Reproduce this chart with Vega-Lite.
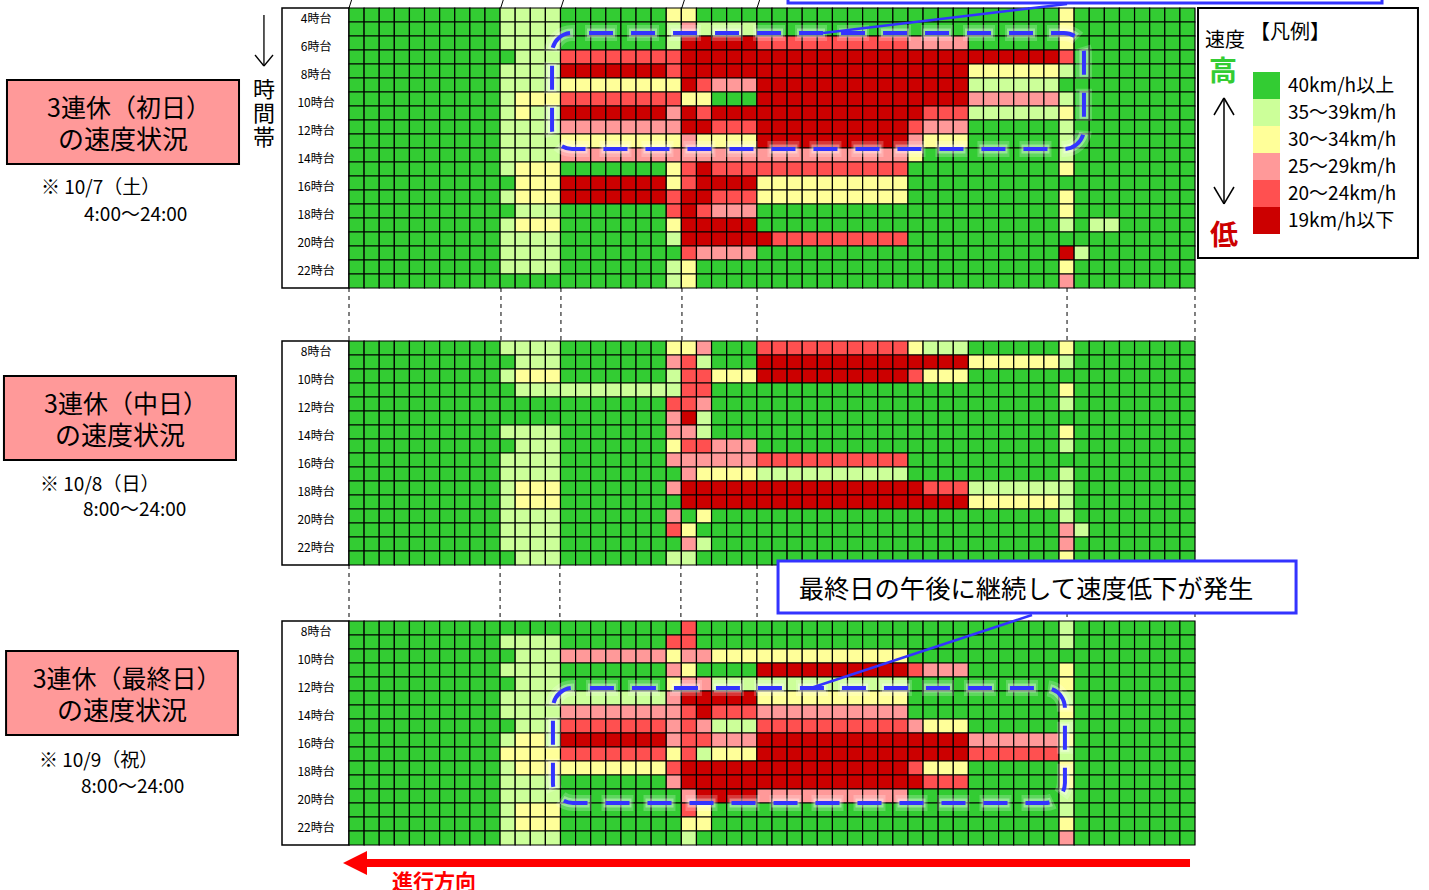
{
"$schema":"https://vega.github.io/schema/vega-lite/v6.json",
"width":1429,"height":890,"padding":0,"autosize":{"type":"none"},"background":"white",
"config":{"font":"Noto Sans CJK JP","view":{"stroke":null}},
"datasets":{"cells":[
{"day":"10/7","hour":4,"label":"4時台","speed":[0,0,0,0,0,0,0,0,0,0, 1,1,1,1, 0,0,0,0,0,0,0, 2, 2, 0,0,0,0, 0,0,0,0,0,0,0,0,0,0, 0,0,0,0, 0,0,0,0,0,0, 2, 0,0,0,0,0,0,0,0]},
{"day":"10/7","hour":5,"label":"5時台","speed":[0,0,0,0,0,0,0,0,0,0, 1,1,1,1, 0,0,0,0,0,0,0, 1, 3, 1,1,1,1, 0,0,0,0,0,0,0,0,0,0, 0,0,0,0, 0,0,0,0,0,0, 2, 0,0,0,0,0,0,0,0]},
{"day":"10/7","hour":6,"label":"6時台","speed":[0,0,0,0,0,0,0,0,0,0, 1,1,1,1, 0,0,0,0,0,0,0, 1, 5, 5,5,5,5, 4,4,4,4,4,4,4,4,4,4, 3,3,3,3, 0,0,0,0,0,0, 2, 0,0,0,0,0,0,0,0]},
{"day":"10/7","hour":7,"label":"7時台","speed":[0,0,0,0,0,0,0,0,0,0, 0,1,1,1, 4,4,4,4,4,4,4, 4, 5, 5,5,5,5, 5,5,5,5,5,5,5,5,5,5, 5,5,5,5, 5,5,5,5,5,5, 4, 0,0,0,0,0,0,0,0]},
{"day":"10/7","hour":8,"label":"8時台","speed":[0,0,0,0,0,0,0,0,0,0, 1,1,1,1, 5,5,5,5,5,5,5, 4, 5, 5,5,5,5, 5,5,5,5,5,5,5,5,5,5, 5,5,5,5, 2,2,2,2,2,2, 1, 0,0,0,0,0,0,0,0]},
{"day":"10/7","hour":9,"label":"9時台","speed":[0,0,0,0,0,0,0,0,0,0, 1,1,1,1, 2,2,2,2,2,2,2, 2, 5, 4,3,3,3, 5,5,5,5,5,5,5,5,5,5, 5,5,5,5, 1,1,1,1,1,1, 0, 0,0,0,0,0,0,0,0]},
{"day":"10/7","hour":10,"label":"10時台","speed":[0,0,0,0,0,0,0,0,0,0, 1,2,2,2, 4,4,4,4,4,4,4, 4, 2, 2,0,0,0, 5,5,5,5,5,5,5,5,5,5, 5,5,5,5, 3,3,3,3,3,3, 1, 0,0,0,0,0,0,0,0]},
{"day":"10/7","hour":11,"label":"11時台","speed":[0,0,0,0,0,0,0,0,0,0, 1,2,1,1, 5,5,5,5,5,5,5, 3, 5, 4,5,5,5, 5,5,5,5,5,5,5,5,5,5, 5,4,4,4, 1,1,1,1,1,1, 2, 0,0,0,0,0,0,0,0]},
{"day":"10/7","hour":12,"label":"12時台","speed":[0,0,0,0,0,0,0,0,0,0, 1,1,1,1, 3,3,3,3,3,3,3, 3, 5, 5,4,4,4, 5,5,5,5,5,5,5,5,5,5, 4,3,3,3, 0,0,0,0,0,0, 1, 0,0,0,0,0,0,0,0]},
{"day":"10/7","hour":13,"label":"13時台","speed":[0,0,0,0,0,0,0,0,0,0, 1,1,1,1, 2,2,2,2,2,2,2, 2, 3, 2,2,2,2, 5,5,5,5,5,5,5,5,5,5, 3,2,2,2, 0,0,0,0,0,0, 1, 0,0,0,0,0,0,0,0]},
{"day":"10/7","hour":14,"label":"14時台","speed":[0,0,0,0,0,0,0,0,0,0, 1,1,1,1, 3,3,3,3,3,3,3, 3, 3, 3,3,3,3, 3,3,3,3,3,3,3,3,3,3, 2,0,0,0, 0,0,0,0,0,0, 1, 0,0,0,0,0,0,0,0]},
{"day":"10/7","hour":15,"label":"15時台","speed":[0,0,0,0,0,0,0,0,0,0, 1,2,2,2, 0,0,0,0,0,0,0, 2, 4, 5,4,4,4, 4,4,4,4,4,4,4,4,4,4, 0,0,0,0, 0,0,0,0,0,0, 2, 0,0,0,0,0,0,0,0]},
{"day":"10/7","hour":16,"label":"16時台","speed":[0,0,0,0,0,0,0,0,0,0, 0,2,2,2, 5,5,5,5,5,5,5, 2, 4, 5,5,5,5, 2,2,2,2,2,2,2,2,2,2, 0,0,0,0, 0,0,0,0,0,0, 0, 0,0,0,0,0,0,0,0]},
{"day":"10/7","hour":17,"label":"17時台","speed":[0,0,0,0,0,0,0,0,0,0, 1,2,2,2, 5,5,5,5,5,5,5, 4, 5, 5,4,4,4, 2,2,2,2,2,2,2,2,2,2, 0,0,0,0, 0,0,0,0,0,0, 2, 0,0,0,0,0,0,0,0]},
{"day":"10/7","hour":18,"label":"18時台","speed":[0,0,0,0,0,0,0,0,0,0, 0,1,1,1, 0,0,0,0,0,0,0, 4, 5, 4,3,3,3, 0,0,0,0,0,0,0,0,0,0, 0,0,0,0, 0,0,0,0,0,0, 2, 0,0,0,0,0,0,0,0]},
{"day":"10/7","hour":19,"label":"19時台","speed":[0,0,0,0,0,0,0,0,0,0, 1,2,2,2, 0,0,0,0,0,0,0, 2, 5, 5,5,5,5, 0,0,0,0,0,0,0,0,0,0, 0,0,0,0, 0,0,0,0,0,0, 1, 0,1,1,0,0,0,0,0]},
{"day":"10/7","hour":20,"label":"20時台","speed":[0,0,0,0,0,0,0,0,0,0, 1,1,1,1, 0,0,0,0,0,0,0, 1, 5, 5,5,5,5, 5,4,4,4,4,4,4,4,4,4, 0,0,0,0, 0,0,0,0,0,0, 0, 0,0,0,0,0,0,0,0]},
{"day":"10/7","hour":21,"label":"21時台","speed":[0,0,0,0,0,0,0,0,0,0, 1,1,1,1, 0,0,0,0,0,0,0, 0, 4, 3,3,3,3, 0,0,0,0,0,0,0,0,0,0, 0,0,0,0, 0,0,0,0,0,0, 5, 1,0,0,0,0,0,0,0]},
{"day":"10/7","hour":22,"label":"22時台","speed":[0,0,0,0,0,0,0,0,0,0, 1,1,1,1, 0,0,0,0,0,0,0, 1, 2, 0,0,0,0, 0,0,0,0,0,0,0,0,0,0, 0,0,0,0, 0,0,0,0,0,0, 2, 0,0,0,0,0,0,0,0]},
{"day":"10/7","hour":23,"label":"23時台","speed":[0,0,0,0,0,0,0,0,0,0, 0,0,0,0, 0,0,0,0,0,0,0, 1, 2, 0,0,0,0, 0,0,0,0,0,0,0,0,0,0, 0,0,0,0, 0,0,0,0,0,0, 3, 0,0,0,0,0,0,0,0]},
{"day":"10/8","hour":8,"label":"8時台","speed":[0,0,0,0,0,0,0,0,0,0, 1,1,1,1, 0,0,0,0,0,0,0, 2, 2, 3,0,0,0, 4,4,4,4,4,4,4,4,4,4, 2,1,1,1, 0,0,0,0,0,0, 2, 0,0,0,0,0,0,0,0]},
{"day":"10/8","hour":9,"label":"9時台","speed":[0,0,0,0,0,0,0,0,0,0, 0,1,1,1, 0,0,0,0,0,0,0, 3, 4, 1,0,0,0, 5,5,5,5,5,5,5,5,5,5, 5,5,5,5, 2,2,2,2,2,2, 1, 0,0,0,0,0,0,0,0]},
{"day":"10/8","hour":10,"label":"10時台","speed":[0,0,0,0,0,0,0,0,0,0, 1,2,2,2, 0,0,0,0,0,0,0, 1, 4, 4,2,2,2, 5,5,5,5,5,5,5,5,5,5, 4,2,2,2, 0,0,0,0,0,0, 0, 0,0,0,0,0,0,0,0]},
{"day":"10/8","hour":11,"label":"11時台","speed":[0,0,0,0,0,0,0,0,0,0, 0,1,1,1, 1,1,1,1,1,1,1, 1, 4, 4,0,0,0, 0,0,0,0,0,0,0,0,0,0, 0,0,0,0, 0,0,0,0,0,0, 2, 0,0,0,0,0,0,0,0]},
{"day":"10/8","hour":12,"label":"12時台","speed":[0,0,0,0,0,0,0,0,0,0, 0,0,0,0, 0,0,0,0,0,0,0, 4, 4, 3,0,0,0, 0,0,0,0,0,0,0,0,0,0, 0,0,0,0, 0,0,0,0,0,0, 1, 0,0,0,0,0,0,0,0]},
{"day":"10/8","hour":13,"label":"13時台","speed":[0,0,0,0,0,0,0,0,0,0, 0,0,0,0, 0,0,0,0,0,0,0, 3, 5, 1,0,0,0, 0,0,0,0,0,0,0,0,0,0, 0,0,0,0, 0,0,0,0,0,0, 0, 0,0,0,0,0,0,0,0]},
{"day":"10/8","hour":14,"label":"14時台","speed":[0,0,0,0,0,0,0,0,0,0, 1,1,1,1, 0,0,0,0,0,0,0, 3, 3, 1,0,0,0, 0,0,0,0,0,0,0,0,0,0, 0,0,0,0, 0,0,0,0,0,0, 2, 0,0,0,0,0,0,0,0]},
{"day":"10/8","hour":15,"label":"15時台","speed":[0,0,0,0,0,0,0,0,0,0, 0,1,1,1, 0,0,0,0,0,0,0, 2, 4, 4,3,3,3, 0,0,0,0,0,0,0,0,0,0, 0,0,0,0, 0,0,0,0,0,0, 1, 0,0,0,0,0,0,0,0]},
{"day":"10/8","hour":16,"label":"16時台","speed":[0,0,0,0,0,0,0,0,0,0, 1,1,1,1, 0,0,0,0,0,0,0, 3, 3, 3,3,3,3, 4,4,4,4,4,4,4,4,4,4, 0,0,0,0, 0,0,0,0,0,0, 0, 0,0,0,0,0,0,0,0]},
{"day":"10/8","hour":17,"label":"17時台","speed":[0,0,0,0,0,0,0,0,0,0, 1,1,1,1, 0,0,0,0,0,0,0, 0, 3, 2,2,2,2, 1,1,1,1,1,1,1,1,1,1, 0,0,0,0, 0,0,0,0,0,0, 1, 0,0,0,0,0,0,0,0]},
{"day":"10/8","hour":18,"label":"18時台","speed":[0,0,0,0,0,0,0,0,0,0, 1,2,2,2, 0,0,0,0,0,0,0, 3, 5, 5,5,5,5, 5,5,5,5,5,5,5,5,5,5, 5,4,4,4, 1,1,1,1,1,1, 1, 0,0,0,0,0,0,0,0]},
{"day":"10/8","hour":19,"label":"19時台","speed":[0,0,0,0,0,0,0,0,0,0, 1,2,2,2, 0,0,0,0,0,0,0, 0, 5, 5,5,5,5, 5,5,5,5,5,5,5,5,5,5, 5,5,5,5, 2,2,2,2,2,2, 1, 0,0,0,0,0,0,0,0]},
{"day":"10/8","hour":20,"label":"20時台","speed":[0,0,0,0,0,0,0,0,0,0, 1,1,1,1, 0,0,0,0,0,0,0, 3, 0, 2,0,0,0, 0,0,0,0,0,0,0,0,0,0, 0,0,0,0, 0,0,0,0,0,0, 1, 0,0,0,0,0,0,0,0]},
{"day":"10/8","hour":21,"label":"21時台","speed":[0,0,0,0,0,0,0,0,0,0, 1,1,1,1, 0,0,0,0,0,0,0, 4, 2, 0,0,0,0, 0,0,0,0,0,0,0,0,0,0, 0,0,0,0, 0,0,0,0,0,0, 3, 1,0,0,0,0,0,0,0]},
{"day":"10/8","hour":22,"label":"22時台","speed":[0,0,0,0,0,0,0,0,0,0, 1,1,1,1, 0,0,0,0,0,0,0, 0, 3, 1,0,0,0, 0,0,0,0,0,0,0,0,0,0, 0,0,0,0, 0,0,0,0,0,0, 3, 0,0,0,0,0,0,0,0]},
{"day":"10/8","hour":23,"label":"23時台","speed":[0,0,0,0,0,0,0,0,0,0, 0,1,1,1, 0,0,0,0,0,0,0, 1, 1, 0,0,0,0, 0,0,0,0,0,0,0,0,0,0, 0,0,0,0, 0,0,0,0,0,0, 2, 0,0,0,0,0,0,0,0]},
{"day":"10/9","hour":8,"label":"8時台","speed":[0,0,0,0,0,0,0,0,0,0, 0,0,0,0, 0,0,0,0,0,0,0, 0, 4, 0,0,0,0, 0,0,0,0,0,0,0,0,0,0, 0,0,0,0, 0,0,0,0,0,0, 1, 0,0,0,0,0,0,0,0]},
{"day":"10/9","hour":9,"label":"9時台","speed":[0,0,0,0,0,0,0,0,0,0, 1,1,1,1, 0,0,0,0,0,0,0, 4, 4, 0,0,0,0, 0,0,0,0,0,0,0,0,0,0, 0,0,0,0, 0,0,0,0,0,0, 1, 0,0,0,0,0,0,0,0]},
{"day":"10/9","hour":10,"label":"10時台","speed":[0,0,0,0,0,0,0,0,0,0, 0,1,1,1, 3,3,3,3,3,3,3, 2, 3, 3,2,2,2, 2,2,2,2,2,2,2,2,2,2, 0,0,0,0, 0,0,0,0,0,0, 0, 0,0,0,0,0,0,0,0]},
{"day":"10/9","hour":11,"label":"11時台","speed":[0,0,0,0,0,0,0,0,0,0, 1,1,1,1, 0,0,0,0,0,0,0, 3, 2, 0,0,0,0, 5,5,5,5,5,5,5,5,5,5, 4,3,3,3, 0,0,0,0,0,0, 2, 0,0,0,0,0,0,0,0]},
{"day":"10/9","hour":12,"label":"12時台","speed":[0,0,0,0,0,0,0,0,0,0, 0,1,1,1, 0,0,0,0,0,0,0, 2, 3, 3,1,1,1, 1,1,1,1,1,1,1,1,1,1, 0,0,0,0, 0,0,0,0,0,0, 2, 0,0,0,0,0,0,0,0]},
{"day":"10/9","hour":13,"label":"13時台","speed":[0,0,0,0,0,0,0,0,0,0, 1,1,1,1, 1,1,1,1,1,1,1, 3, 5, 5,5,5,5, 2,2,2,2,2,2,2,2,2,2, 0,0,0,0, 0,0,0,0,0,0, 1, 0,0,0,0,0,0,0,0]},
{"day":"10/9","hour":14,"label":"14時台","speed":[0,0,0,0,0,0,0,0,0,0, 1,1,1,1, 3,3,3,3,3,3,3, 3, 4, 5,4,4,4, 3,3,3,3,3,3,3,3,3,3, 0,0,0,0, 0,0,0,0,0,0, 2, 0,0,0,0,0,0,0,0]},
{"day":"10/9","hour":15,"label":"15時台","speed":[0,0,0,0,0,0,0,0,0,0, 0,1,1,1, 4,4,4,4,4,4,4, 3, 4, 3,1,1,1, 4,4,4,4,4,4,4,4,4,4, 3,2,2,2, 0,0,0,0,0,0, 1, 0,0,0,0,0,0,0,0]},
{"day":"10/9","hour":16,"label":"16時台","speed":[0,0,0,0,0,0,0,0,0,0, 1,2,2,1, 5,5,5,5,5,5,5, 3, 4, 4,3,3,3, 5,5,5,5,5,5,5,5,5,5, 5,5,5,5, 3,3,3,3,3,3, 2, 0,0,0,0,0,0,0,0]},
{"day":"10/9","hour":17,"label":"17時台","speed":[0,0,0,0,0,0,0,0,0,0, 2,2,2,2, 4,4,4,4,4,4,4, 2, 4, 1,2,2,2, 5,5,5,5,5,5,5,5,5,5, 5,5,5,5, 4,4,4,4,4,4, 1, 0,0,0,0,0,0,0,0]},
{"day":"10/9","hour":18,"label":"18時台","speed":[0,0,0,0,0,0,0,0,0,0, 1,2,2,2, 2,2,2,2,2,2,2, 4, 5, 5,5,5,5, 5,5,5,5,5,5,5,5,5,5, 4,2,2,2, 0,0,0,0,0,0, 2, 0,0,0,0,0,0,0,0]},
{"day":"10/9","hour":19,"label":"19時台","speed":[0,0,0,0,0,0,0,0,0,0, 1,1,1,1, 0,0,0,0,0,0,0, 3, 5, 5,5,5,5, 5,5,5,5,5,5,5,5,5,5, 5,4,4,4, 0,0,0,0,0,0, 2, 0,0,0,0,0,0,0,0]},
{"day":"10/9","hour":20,"label":"20時台","speed":[0,0,0,0,0,0,0,0,0,0, 1,1,1,1, 0,0,0,0,0,0,0, 0, 3, 5,5,5,5, 3,3,3,3,3,3,3,3,3,3, 0,0,0,0, 0,0,0,0,0,0, 1, 0,0,0,0,0,0,0,0]},
{"day":"10/9","hour":21,"label":"21時台","speed":[0,0,0,0,0,0,0,0,0,0, 1,2,2,2, 0,0,0,0,0,0,0, 0, 4, 2,0,0,0, 0,0,0,0,0,0,0,0,0,0, 0,0,0,0, 0,0,0,0,0,0, 1, 0,0,0,0,0,0,0,0]},
{"day":"10/9","hour":22,"label":"22時台","speed":[0,0,0,0,0,0,0,0,0,0, 1,2,2,2, 0,0,0,0,0,0,0, 0, 2, 2,0,0,0, 0,0,0,0,0,0,0,0,0,0, 0,0,0,0, 0,0,0,0,0,0, 2, 0,0,0,0,0,0,0,0]},
{"day":"10/9","hour":23,"label":"23時台","speed":[0,0,0,0,0,0,0,0,0,0, 1,1,1,1, 0,0,0,0,0,0,0, 0, 1, 0,0,0,0, 0,0,0,0,0,0,0,0,0,0, 0,0,0,0, 0,0,0,0,0,0, 3, 0,0,0,0,0,0,0,0]}
]},
"encoding":{"x":{"field":"col","type":"quantitative","scale":{"domain":[-22.602,71.99],"range":[0,1429]},"axis":null}},
"resolve":{"scale":{"y":"independent"}},
"layer":[
{"encoding":{"y":{"field":"row","type":"quantitative","scale":{"domain":[2.929,66.5],"range":[0,890]},"axis":null}},
 "data":{"values":[
  {"col":-3.935,"col2":0.5,"row":3.5,"row2":23.5},
  {"col":-3.935,"col2":0.5,"row":27.286,"row2":43.286},
  {"col":-3.935,"col2":0.5,"row":47.286,"row2":63.286}]},
 "layer":[{"mark":{"type":"rect","fill":"white","stroke":"#000","strokeWidth":1.5},"encoding":{"x2":{"field":"col2"},"y2":{"field":"row2"}}}]},
{"data":{"name":"cells"},
 "transform":[{"filter":"datum.day=='10/7'"},{"flatten":["speed"],"as":["speedClass"]},{"window":[{"op":"row_number","as":"col"}],"groupby":["hour"]}],
 "encoding":{"y":{"field":"hour","type":"quantitative","scale":{"domain":[2.929,66.5],"range":[0,890]},"axis":null}},
 "layer":[
  {"mark":{"type":"rect","width":15.107,"height":14,"stroke":"#000","strokeWidth":1.2},
   "encoding":{"color":{"field":"speedClass","type":"ordinal","scale":{"domain":[0,1,2,3,4,5],"range":["#33cc33","#ccff99","#ffff99","#ff9999","#ff5050","#cc0000"]},
    "legend":{"orient":"none","legendX":1253,"legendY":72,"title":null,"symbolType":"square","symbolSize":729,"symbolStrokeWidth":0,"symbolOpacity":1,"labelFont":"Noto Sans CJK JP","labelFontSize":19,"labelColor":"#000","labelOffset":8,"rowPadding":0,"padding":0,"zindex":1,"labelExpr":"['40km/h以上','35～39km/h','30～34km/h','25～29km/h','20～24km/h','19km/h以下'][datum.value]"}}}},
  {"transform":[{"filter":"datum.col==1 && datum.hour%2==0"}],"mark":{"type":"text","fontSize":12,"dy":4,"color":"#000"},
   "encoding":{"x":{"datum":-1.68,"type":"quantitative","scale":{"domain":[-22.602,71.99],"range":[0,1429]},"axis":null},"text":{"field":"label"}}}
 ]},
{"data":{"name":"cells"},
 "transform":[{"filter":"datum.day=='10/8'"},{"flatten":["speed"],"as":["speedClass"]},{"window":[{"op":"row_number","as":"col"}],"groupby":["hour"]}],
 "encoding":{"y":{"field":"hour","type":"quantitative","scale":{"domain":[-16.857,46.714],"range":[0,890]},"axis":null}},
 "layer":[
  {"mark":{"type":"rect","width":15.107,"height":14,"stroke":"#000","strokeWidth":1.2},
   "encoding":{"color":{"field":"speedClass","type":"ordinal","scale":{"domain":[0,1,2,3,4,5],"range":["#33cc33","#ccff99","#ffff99","#ff9999","#ff5050","#cc0000"]},"legend":null}}},
  {"transform":[{"filter":"datum.col==1 && datum.hour%2==0"}],"mark":{"type":"text","fontSize":12,"dy":4,"color":"#000"},
   "encoding":{"x":{"datum":-1.68,"type":"quantitative","scale":{"domain":[-22.602,71.99],"range":[0,1429]},"axis":null},"text":{"field":"label"}}}
 ]},
{"data":{"name":"cells"},
 "transform":[{"filter":"datum.day=='10/9'"},{"flatten":["speed"],"as":["speedClass"]},{"window":[{"op":"row_number","as":"col"}],"groupby":["hour"]}],
 "encoding":{"y":{"field":"hour","type":"quantitative","scale":{"domain":[-36.857,26.714],"range":[0,890]},"axis":null}},
 "layer":[
  {"mark":{"type":"rect","width":15.107,"height":14,"stroke":"#000","strokeWidth":1.2},
   "encoding":{"color":{"field":"speedClass","type":"ordinal","scale":{"domain":[0,1,2,3,4,5],"range":["#33cc33","#ccff99","#ffff99","#ff9999","#ff5050","#cc0000"]},"legend":null}}},
  {"transform":[{"filter":"datum.col==1 && datum.hour%2==0"}],"mark":{"type":"text","fontSize":12,"dy":4,"color":"#000"},
   "encoding":{"x":{"datum":-1.68,"type":"quantitative","scale":{"domain":[-22.602,71.99],"range":[0,1429]},"axis":null},"text":{"field":"label"}}}
 ]},
{"encoding":{"y":{"field":"row","type":"quantitative","scale":{"domain":[2.929,66.5],"range":[0,890]},"axis":null}},
 "layer":[
  {"data":{"values":[{"col":13.94,"col2":49.15,"row":5.286,"row2":13.571},{"col":14.0,"col2":47.89,"row":52.071,"row2":60.286}]},
   "mark":{"type":"rect","cornerRadius":20,"fillOpacity":0,"stroke":"#ffffff","strokeOpacity":0.22,"strokeWidth":16,"strokeDash":[32,10],"strokeDashOffset":29},"encoding":{"x2":{"field":"col2"},"y2":{"field":"row2"}}},
  {"data":{"values":[{"col":13.94,"col2":49.15,"row":5.286,"row2":13.571},{"col":14.0,"col2":47.89,"row":52.071,"row2":60.286}]},
   "mark":{"type":"rect","cornerRadius":20,"fillOpacity":0,"stroke":"#ffffff","strokeOpacity":0.35,"strokeWidth":9,"strokeDash":[28,14],"strokeDashOffset":27},"encoding":{"x2":{"field":"col2"},"y2":{"field":"row2"}}},
  {"data":{"values":[{"col":13.94,"col2":49.15,"row":5.286,"row2":13.571},{"col":14.0,"col2":47.89,"row":52.071,"row2":60.286}]},
   "mark":{"type":"rect","cornerRadius":20,"fillOpacity":0,"stroke":"#3333ff","strokeWidth":4,"strokeDash":[24,18],"strokeDashOffset":25},"encoding":{"x2":{"field":"col2"},"y2":{"field":"row2"}}},
  {"data":{"values":[{"col":0.5,"row":23.5,"row2":27.286},{"col":10.56,"row":23.5,"row2":27.286},{"col":14.53,"row":23.5,"row2":27.286},{"col":22.54,"row":23.5,"row2":27.286},{"col":27.51,"row":23.5,"row2":27.286},{"col":48.03,"row":23.5,"row2":27.286},{"col":56.5,"row":23.5,"row2":27.286},
    {"col":0.5,"row":43.286,"row2":47.286},{"col":10.5,"row":43.286,"row2":47.286},{"col":14.46,"row":43.286,"row2":47.286},{"col":22.47,"row":43.286,"row2":47.286},{"col":27.51,"row":43.286,"row2":47.286},{"col":48.03,"row":43.286,"row2":47.286},{"col":56.5,"row":43.286,"row2":47.286}]},
   "mark":{"type":"rule","stroke":"#000","strokeWidth":1,"strokeDash":[4,4]},"encoding":{"y2":{"field":"row2"}}},
  {"data":{"values":[{"col":0.5,"col2":0.67,"row":3.5,"row2":2.929},{"col":10.54,"col2":10.71,"row":3.5,"row2":2.929},{"col":14.53,"col2":14.7,"row":3.5,"row2":2.929},{"col":22.53,"col2":22.7,"row":3.5,"row2":2.929},{"col":27.51,"col2":27.68,"row":3.5,"row2":2.929}]},
   "mark":{"type":"rule","stroke":"#000","strokeWidth":1},"encoding":{"x2":{"field":"col2"},"y2":{"field":"row2"}}},
  {"data":{"values":[{"col":-22.14,"col2":-6.78,"row":8.643,"row2":14.643},{"col":-22.34,"col2":-6.98,"row":29.786,"row2":35.786},{"col":-22.2,"col2":-6.85,"row":49.429,"row2":55.429}]},
   "mark":{"type":"rect","fill":"#ff9999","stroke":"#000","strokeWidth":2},"encoding":{"x2":{"field":"col2"},"y2":{"field":"row2"}}},
  {"data":{"values":[{"col":-14.06,"row":10.71,"text":"3連休（初日）"},{"col":-14.26,"row":31.85,"text":"3連休（中日）"},{"col":-14.19,"row":51.5,"text":"3連休（最終日）"}]},
   "mark":{"type":"text","fontSize":25,"color":"#000"},"encoding":{"text":{"field":"text"}}},
  {"data":{"values":[{"col":-14.46,"row":13.0,"text":"の速度状況"},{"col":-14.66,"row":34.14,"text":"の速度状況"},{"col":-14.53,"row":53.78,"text":"の速度状況"}]},
   "mark":{"type":"text","fontSize":26,"color":"#000"},"encoding":{"text":{"field":"text"}}},
  {"data":{"values":[{"col":-19.89,"row":16.36,"text":"※ 10/7（土）"},{"col":-17.04,"row":18.29,"text":"4:00～24:00"},{"col":-19.95,"row":37.57,"text":"※ 10/8（日）"},{"col":-17.11,"row":39.36,"text":"8:00～24:00"},{"col":-20.02,"row":57.29,"text":"※ 10/9（祝）"},{"col":-17.24,"row":59.14,"text":"8:00～24:00"}]},
   "mark":{"type":"text","fontSize":19,"align":"left","color":"#000"},"encoding":{"text":{"field":"text"}}},
  {"data":{"values":[{"col":-5.13,"row":9.33,"text":"時\n間\n帯"}]},
   "mark":{"type":"text","fontSize":22,"lineBreak":"\n","lineHeight":24.3,"color":"#000"},"encoding":{"text":{"field":"text"}}},
  {"data":{"values":[{"col":-5.13,"col2":-5.13,"row":4.0,"row2":7.643},{"col":-5.72,"col2":-5.13,"row":6.857,"row2":7.643},{"col":-4.53,"col2":-5.13,"row":6.857,"row2":7.643}]},
   "mark":{"type":"rule","stroke":"#000","strokeWidth":1.3},"encoding":{"x2":{"field":"col2"},"y2":{"field":"row2"}}},
  {"data":{"values":[{"col":56.7,"col2":71.26,"row":3.5,"row2":21.357}]},
   "mark":{"type":"rect","fill":"white","stroke":"#000","strokeWidth":2},"encoding":{"x2":{"field":"col2"},"y2":{"field":"row2"}}},
  {"data":{"values":[{"col":58.49,"row":5.86,"text":"速度"}]},"mark":{"type":"text","fontSize":20,"color":"#000"},"encoding":{"text":{"field":"text"}}},
  {"data":{"values":[{"col":62.79,"row":5.29,"text":"【凡例】"}]},"mark":{"type":"text","fontSize":20,"color":"#000"},"encoding":{"text":{"field":"text"}}},
  {"data":{"values":[{"col":58.35,"row":8.14,"text":"高"}]},"mark":{"type":"text","fontSize":28,"fontWeight":"bold","color":"#33cc33"},"encoding":{"text":{"field":"text"}}},
  {"data":{"values":[{"col":58.42,"row":19.86,"text":"低"}]},"mark":{"type":"text","fontSize":28,"fontWeight":"bold","color":"#cc0000"},"encoding":{"text":{"field":"text"}}},
  {"data":{"values":[{"col":58.42,"col2":58.42,"row":9.929,"row2":17.5},{"col":57.76,"col2":58.42,"row":11.143,"row2":9.929},{"col":59.08,"col2":58.42,"row":11.143,"row2":9.929},{"col":57.76,"col2":58.42,"row":16.286,"row2":17.5},{"col":59.08,"col2":58.42,"row":16.286,"row2":17.5}]},
   "mark":{"type":"rule","stroke":"#000","strokeWidth":1.5},"encoding":{"x2":{"field":"col2"},"y2":{"field":"row2"}}},
  {"data":{"values":[{"col":48.03,"col2":31.88,"row":3.214,"row2":5.286},{"col":45.71,"col2":31.08,"row":46.857,"row2":52.071}]},
   "mark":{"type":"rule","stroke":"#3333ff","strokeWidth":2.5},"encoding":{"x2":{"field":"col2"},"y2":{"field":"row2"}}},
  {"data":{"values":[{"col":29.56,"col2":68.88,"row":0.07,"row2":3.143},{"col":28.9,"col2":63.19,"row":43,"row2":46.714}]},
   "mark":{"type":"rect","fill":"white","stroke":"#3333ff","strokeWidth":3},"encoding":{"x2":{"field":"col2"},"y2":{"field":"row2"}}},
  {"data":{"values":[{"col":45.31,"row":45.07,"text":"最終日の午後に継続して速度低下が発生"}]},"mark":{"type":"text","fontSize":25.3,"color":"#000"},"encoding":{"text":{"field":"text"}}},
  {"data":{"values":[{"col":56.17,"col2":1.69,"row":64.571}]},"mark":{"type":"rule","stroke":"#ff0000","strokeWidth":8},"encoding":{"x2":{"field":"col2"}}},
  {"data":{"values":[{"col":1.69,"row":64.571}]},"mark":{"type":"point","shape":"M -2 0 L 0 -1 L 0 1 Z","size":576,"filled":true,"fill":"#ff0000","stroke":null,"opacity":1}},
  {"data":{"values":[{"col":6.13,"row":66,"text":"進行方向"}]},"mark":{"type":"text","fontSize":21,"fontWeight":"bold","color":"#ff0000"},"encoding":{"text":{"field":"text"}}}
 ]}
]
}
